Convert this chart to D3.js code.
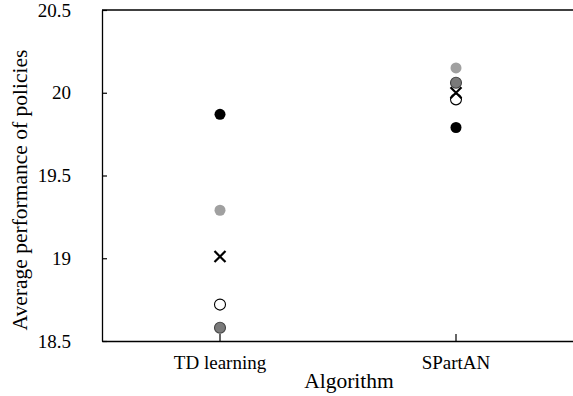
<!DOCTYPE html>
<html>
<head>
<meta charset="utf-8">
<script src="https://cdn.jsdelivr.net/npm/d3@7/dist/d3.min.js"></script>
</head>
<body style="margin:0;background:#fff">
<svg id="chart" width="573" height="396" style="display:block"></svg>
<script>
const categories = ["TD learning", "SPartAN"];
const yTicks = [18.5, 19, 19.5, 20, 20.5];
const yTickLabels = ["18.5", "19", "19.5", "20", "20.5"];
const run1 = [19.87, 19.79];   // black filled
const run2 = [19.29, 20.15];   // light grey
const run3 = [18.72, 19.96];   // open circle
const run4 = [18.58, 20.06];   // dark grey, outlined
const meanVals = [19.01, 20.0]; // × marker

(function () {
const FONT = '"Liberation Serif"';
const svg = d3.select("#chart");
const pl = 102, pr = 574, pt = 10, pb = 341;

const x = d3.scaleBand().domain(categories).range([pl, pr]).padding(0);
const y = d3.scaleLinear().domain([18.5, 20.5]).range([pb, pt]);

svg.append("line").attr("x1", pl).attr("x2", 573).attr("y1", pt).attr("y2", pt)
  .attr("stroke", "#000").attr("stroke-width", 1.3);

const yAxis = d3.axisLeft(y).tickValues(yTicks)
  .tickFormat((d, i) => yTickLabels[i]).tickSizeInner(-5).tickSizeOuter(0).tickPadding(31);
const gy = svg.append("g").attr("transform", `translate(${pl},0)`).call(yAxis);
gy.select(".domain").attr("stroke", "#000").attr("stroke-width", 1.3);
gy.selectAll(".tick line").attr("stroke", "#000").attr("stroke-width", 1.2);
gy.selectAll(".tick text").attr("font-size", 19).attr("fill", "#000").style("font-family", FONT);

const xAxis = d3.axisBottom(x).tickSizeInner(-7).tickSizeOuter(0).tickPadding(15);
const gx = svg.append("g").attr("transform", `translate(0,${pb})`).call(xAxis);
gx.select(".domain").attr("stroke", "#000").attr("stroke-width", 1.3);
gx.selectAll(".tick line").attr("stroke", "#000").attr("stroke-width", 1.2);
gx.selectAll(".tick text").attr("font-size", 19).attr("fill", "#000").style("font-family", FONT);

const cx = c => x(c) + x.bandwidth() / 2;

function dots(vals, fill, stroke) {
  svg.append("g").selectAll("circle").data(vals).join("circle")
    .attr("cx", (d, i) => cx(categories[i]))
    .attr("cy", d => y(d))
    .attr("r", 5.5)
    .attr("fill", fill)
    .attr("stroke", stroke || "none")
    .attr("stroke-width", stroke ? 1.1 : 0);
}
dots(run1, "#000");
dots(run2, "#a0a0a0");
dots(run4, "#7a7a7a", "#444");
dots(run3, "#fff", "#000");

const s = 5.5;
const mg = svg.append("g");
meanVals.forEach((v, i) => {
  const px = cx(categories[i]), py = y(v);
  mg.append("path")
    .attr("d", `M${px - s},${py - s}L${px + s},${py + s}M${px - s},${py + s}L${px + s},${py - s}`)
    .attr("stroke", "#000").attr("stroke-width", 2.2).attr("fill", "none");
});

svg.append("text").attr("x", 349).attr("y", 388)
  .attr("text-anchor", "middle").attr("font-size", 21.5).attr("fill", "#000")
  .style("font-family", FONT).text("Algorithm");
svg.append("text")
  .attr("transform", `translate(27,190) rotate(-90)`)
  .attr("text-anchor", "middle").attr("font-size", 21.5).attr("fill", "#000")
  .style("font-family", FONT).text("Average performance of policies");
})();
</script>
</body>
</html>
